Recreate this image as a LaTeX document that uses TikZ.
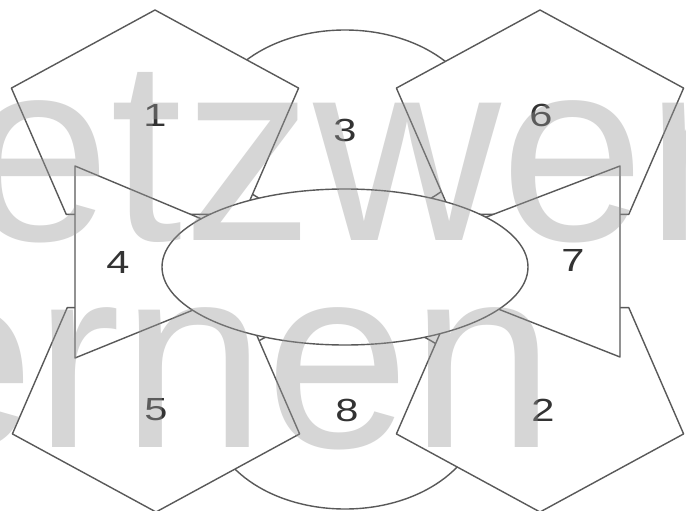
\documentclass[tikz,border=0pt]{standalone}
\usepackage{fontspec}
\setmainfont{Liberation Sans}
\newfontfamily\digitfont[FakeStretch=1.3]{Liberation Sans}
\usetikzlibrary{calc}

\begin{document}
\begin{tikzpicture}[
    x=1pt, y=-1pt,
    shapeline/.style={
        draw=black!65, fill=white,
        line width=1.4pt, line join=round,
    },
    numlabel/.style={
        font=\digitfont\fontsize{32}{32}\selectfont,
        text=black!80, inner sep=0pt,
    },
    watermark/.style={
        font=\fontsize{260}{260}\selectfont,
        text=black!40, opacity=0.4,
        inner sep=0pt, anchor=base west,
    },
]

\useasboundingbox (0,0) rectangle (686,511);
\fill[white] (0,0) rectangle (686,511);
\clip (0,0) rectangle (686,511);

% === Ellipses top and bottom (lowest layer) ===
\filldraw[shapeline] (345,125) ellipse [x radius=135, y radius=95];
\filldraw[shapeline] (345,414) ellipse [x radius=135, y radius=95];

% === Pentagons ===
% upper row, pointing up
\foreach \cx in {155,540} {
    \begin{scope}[shift={(\cx,123)}]
        \filldraw[shapeline] (270:151 and 113)
            \foreach \a in {342,54,126,198} { -- (\a:151 and 113) } -- cycle;
    \end{scope}
}
% lower row, pointing down
\foreach \cx in {156,540} {
    \begin{scope}[shift={(\cx,399)}]
        \filldraw[shapeline] (90:151 and 113)
            \foreach \a in {162,234,306,18} { -- (\a:151 and 113) } -- cycle;
    \end{scope}
}

% === Trapezoids left and right ===
\filldraw[shapeline] (75,166) -- (240,235) -- (240,291) -- (75,358) -- cycle;
\filldraw[shapeline] (620,166) -- (455,229) -- (455,292) -- (620,357) -- cycle;

% === Centre ellipse (top layer) ===
\filldraw[shapeline] (345,267) ellipse [x radius=183, y radius=78];

% Numbers
\node[numlabel] (n1) at (155,115) {1};
\node[numlabel] (n3) at (345,130) {3};
\node[numlabel] (n6) at (541,115) {6};
\node[numlabel] (n4) at (118,262) {4};
\node[numlabel] (n7) at (573,260) {7};
\node[numlabel] (n5) at (156,410) {5};
\node[numlabel] (n8) at (347,410) {8};
\node[numlabel] (n2) at (543,410) {2};

% Watermark over everything
\node[watermark] (wmtop) at (-34,240) {etzwer};
\node[watermark] (wmbottom) at (-110,447) {ernen};

\end{tikzpicture}
\end{document}
